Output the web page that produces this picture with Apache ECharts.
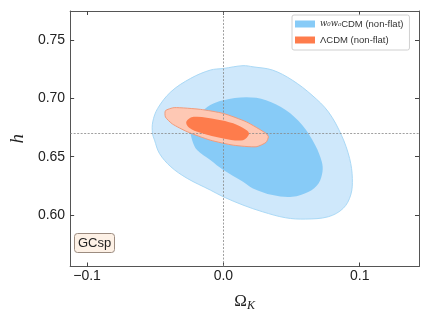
<!DOCTYPE html>
<html lang="en">
<head>
    <meta charset="UTF-8">
    <title>GCsp contours</title>
    <style>
        html, body { margin: 0; padding: 0; background: #fff; }
        #main { width: 430px; height: 322px; }
    </style>
    <script src="https://cdn.jsdelivr.net/npm/echarts@6/dist/echarts.min.js"></script>
</head>
<body>
<div id="main"></div>
<script>
    // contour outlines, [Omega_K, h]
    var blueOuter = [
        [0, 0.7257], [0.0144, 0.7281], [0.0217, 0.7271], [0.0361, 0.7243], [0.0505, 0.7157],
        [0.0650, 0.7028], [0.0770, 0.6885], [0.0866, 0.6685], [0.0926, 0.6485], [0.0946, 0.6314],
        [0.0934, 0.6171], [0.0879, 0.6057], [0.0770, 0.5985], [0.0601, 0.5965], [0.0457, 0.5976],
        [0.0289, 0.6027], [0.0144, 0.6085], [0, 0.6156], [-0.0096, 0.6214], [-0.0265, 0.6314],
        [-0.0385, 0.6413], [-0.0469, 0.6528], [-0.0505, 0.6642], [-0.0520, 0.6700], [-0.0518, 0.6799],
        [-0.0482, 0.6914], [-0.0385, 0.7057], [-0.0240, 0.7172], [-0.0096, 0.7243]
    ];
    var blueInner = [
        [0.0168, 0.7009], [0.0313, 0.6985], [0.0457, 0.6900], [0.0578, 0.6771], [0.0674, 0.6599],
        [0.0722, 0.6456], [0.0727, 0.6370], [0.0698, 0.6271], [0.0626, 0.6199], [0.0505, 0.6156],
        [0.0361, 0.6171], [0.0217, 0.6228], [0.0144, 0.6285], [0, 0.6385], [-0.0096, 0.6471],
        [-0.0193, 0.6557], [-0.0229, 0.6642], [-0.0240, 0.6720], [-0.0217, 0.6799], [-0.0168, 0.6871],
        [-0.0096, 0.6943], [0, 0.6985]
    ];
    var orangeOuter = [
        [-0.0425, 0.6895], [-0.0361, 0.6921], [-0.0168, 0.6906], [0, 0.6871], [0.0168, 0.6799],
        [0.0313, 0.6700], [0.0330, 0.6671], [0.0313, 0.6623], [0.0240, 0.6585], [0.0072, 0.6599],
        [-0.0096, 0.6642], [-0.0265, 0.6714], [-0.0373, 0.6780], [-0.0425, 0.6840]
    ];
    var orangeInner = [
        [-0.0272, 0.6799], [-0.0217, 0.6842], [-0.0048, 0.6820], [0.0072, 0.6786], [0.0168, 0.6728],
        [0.0188, 0.6694], [0.0144, 0.6642], [0, 0.6657], [-0.0168, 0.6705], [-0.0253, 0.6751]
    ];
    var xTicks = [-0.1, 0, 0.1];
    var yTicks = [0.6, 0.65, 0.7, 0.75];
    var refOmegaK = 0;
    var refH = 0.6734;
    var nameW = 'w0waCDM (non-flat)';
    var nameL = 'ΛCDM (non-flat)';

    var xRange = [-0.1124, 0.1435];
    var yRange = [0.5558, 0.775];

    function contour(pts, fill, stroke, smooth) {
        return function (params, api) {
            if (params.dataIndex !== 0) return null;
            var points = pts.map(function (p) { return api.coord(p); });
            return {
                type: 'polygon',
                shape: { points: points, smooth: smooth },
                style: { fill: fill, stroke: stroke, lineWidth: stroke ? 1 : 0 }
            };
        };
    }

    function polySeries(name, pts, fill, stroke, legendColor, z, smooth) {
        return {
            type: 'custom',
            name: name,
            data: pts,
            encode: { x: 0, y: 1 },
            z: z,
            silent: true,
            clip: true,
            itemStyle: { color: legendColor },
            renderItem: contour(pts, fill, stroke, smooth)
        };
    }

    function axisBase(pos, range, ticks, withLabels, fmt) {
        return {
            type: 'value',
            position: pos,
            min: range[0],
            max: range[1],
            splitLine: { show: false },
            axisLine: { show: true, onZero: false, lineStyle: { color: '#555', width: 1 } },
            axisTick: { show: true, inside: true, length: 4, customValues: ticks, lineStyle: { color: '#444' } },
            axisLabel: {
                show: withLabels,
                customValues: ticks,
                formatter: fmt,
                fontFamily: 'Liberation Sans',
                fontSize: 14,
                color: '#222'
            }
        };
    }

    var xFmt = function (v) { return v < 0 ? '\u2212' + (-v).toFixed(1) : v.toFixed(1); };
    var yFmt = function (v) { return v.toFixed(2); };

    var xMain = axisBase('bottom', xRange, xTicks, true, xFmt);
    xMain.axisLabel.margin = 3;
    xMain.name = '{o|Ω}{k|K}';
    xMain.nameLocation = 'middle';
    xMain.nameGap = 25;
    xMain.nameTextStyle = {
        rich: {
            o: { fontFamily: 'Liberation Serif', fontSize: 17, color: '#222', lineHeight: 20 },
            k: { fontFamily: 'Liberation Serif', fontStyle: 'italic', fontSize: 12, color: '#222', verticalAlign: 'bottom', lineHeight: 12, padding: [5, 0, 0, 0] }
        }
    };
    var yMain = axisBase('left', yRange, yTicks, true, yFmt);
    yMain.axisLabel.margin = 5;
    yMain.name = 'h';
    yMain.nameLocation = 'middle';
    yMain.nameGap = 38;
    yMain.nameRotate = 90;
    yMain.nameTextStyle = { fontFamily: 'Liberation Serif', fontStyle: 'italic', fontSize: 19, color: '#222' };

    var option = {
        animation: false,
        backgroundColor: '#fff',
        grid: { left: 64.5, right: 11, top: 11, bottom: 55.5 },
        title: {
            text: 'GCsp',
            left: 74,
            top: 233,
            padding: [3, 4],
            backgroundColor: '#fdf1e6',
            borderColor: '#9c8c80',
            borderWidth: 1,
            borderRadius: 3,
            textStyle: { fontFamily: 'Liberation Sans', fontSize: 13, fontWeight: 'normal', color: '#222', lineHeight: 14 }
        },
        legend: {
            orient: 'vertical',
            left: 292,
            top: 15,
            padding: [4, 6, 5, 3],
            itemGap: 6,
            itemWidth: 20,
            itemHeight: 7,
            icon: 'rect',
            backgroundColor: '#fff',
            borderColor: '#d0d0d0',
            borderWidth: 1,
            borderRadius: 2,
            data: [nameW, nameL],
            formatter: function (name) {
                return name === nameW ? '{i|w₀wₐ}{n|CDM (non-flat)}' : '{n|' + name + '}';
            },
            textStyle: {
                color: '#333',
                rich: {
                    i: { fontFamily: 'DejaVu Serif', fontStyle: 'italic', fontSize: 8.5, color: '#333' },
                    n: { fontFamily: 'Liberation Sans', fontSize: 9.5, color: '#333' }
                }
            }
        },
        xAxis: [xMain, axisBase('top', xRange, xTicks, false, xFmt)],
        yAxis: [yMain, axisBase('right', yRange, yTicks, false, yFmt)],
        series: [
            polySeries(nameW, blueOuter, '#cfe8fb', '#aad9f6', '#87cbf7', 2, 0.35),
            polySeries(nameW, blueInner, '#87cbf7', null, '#87cbf7', 3, 0.35),
            polySeries(nameL, orangeOuter, '#fec8b4', '#f29b7b', '#fe7c4c', 4, 0.2),
            {
                type: 'custom',
                name: nameL,
                data: orangeInner,
                encode: { x: 0, y: 1 },
                z: 5,
                silent: true,
                clip: true,
                itemStyle: { color: '#fe7c4c' },
                renderItem: contour(orangeInner, '#fe7c4c', null, 0.35),
                markLine: {
                    silent: true,
                    symbol: 'none',
                    label: { show: false },
                    lineStyle: { color: '#888', type: [2, 1.5], width: 0.8 },
                    data: [{ xAxis: refOmegaK }, { yAxis: refH }]
                }
            }
        ]
    };

    var myChart = echarts.init(document.getElementById('main'));
    myChart.setOption(option);
</script>
</body>
</html>
